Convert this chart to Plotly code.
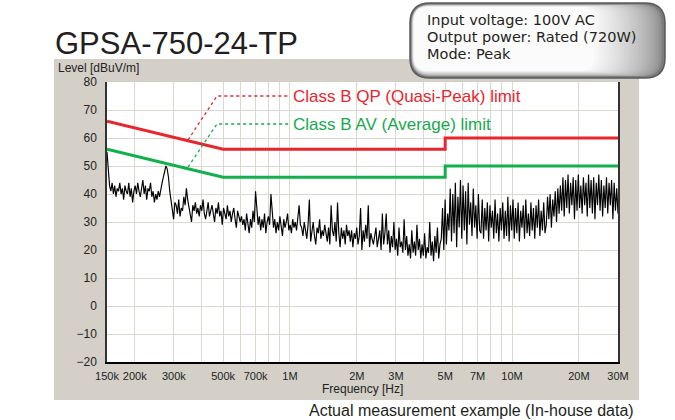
import numpy as np
import plotly.graph_objects as go

# ---------------- data ----------------
tick_freqs = [150e3, 200e3, 300e3, 500e3, 700e3, 1e6, 2e6, 3e6, 5e6, 7e6, 10e6, 20e6, 30e6]
tick_labels = ["150k", "200k", "300k", "500k", "700k", "1M", "2M", "3M", "5M", "7M", "10M", "20M", "30M"]
minor_grid_freqs = [400e3, 600e3, 800e3, 900e3, 4e6, 6e6, 8e6, 9e6]

limit_freqs = [150e3, 500e3, 5e6, 5e6, 30e6]
qp_limit = [66, 56, 56, 60, 60]
av_limit = [56, 46, 46, 50, 50]

meas_level = [
    # 150k - ~240k
    55, 50, 43, 41, 44, 40, 43, 39, 42, 41, 44, 40, 42, 38, 43, 41, 40, 44, 39, 42,
    37, 41, 43, 40, 44, 41, 39, 42, 45, 40, 43, 38, 42, 41, 44, 39, 41, 37, 40, 38,
    41, 39,
    # peak near 270k
    42, 44, 46, 48, 50, 49, 46, 41, 38, 35, 31, 37,
    # 300k - 430k
    36, 33, 38, 32, 35, 34, 39, 36, 42, 38, 35, 33, 30, 36, 34, 37, 33, 35, 32, 36,
    34, 38, 33, 31, 35, 37, 32, 34, 36, 33, 30, 35, 33, 37, 32, 34, 29, 35, 33, 31,
    36, 32, 34, 30, 33, 35, 31, 28, 34, 32, 30,
    # 430k - 1M
    32, 29, 31, 27, 33, 30, 26, 31, 28, 34, 30, 41, 35, 29, 32, 27, 31, 28, 33, 26,
    30, 32, 29, 40, 34, 28, 31, 26, 30, 27, 32, 29, 25, 31, 28, 30, 33, 27, 29, 26,
    31, 28, 30, 27, 32, 36, 29,
    # 1M - 2.5M
    28, 25, 30, 27, 24, 29, 38, 23, 27, 30, 25, 22, 28, 26, 31, 24, 27, 25, 29, 26,
    23, 28, 22, 36, 27, 25, 30, 23, 37, 26, 21, 28, 24, 27, 22, 29, 25, 27, 23, 27,
    21, 26, 24, 28, 22, 25, 35, 20, 27, 23, 29, 24, 36, 21, 26, 24, 22, 25, 28, 21,
    24, 27, 20, 33, 22, 26,
    # 2.5M - 5M
    33, 22, 27, 19, 25, 21, 30, 20, 24, 18, 28, 21, 23, 19, 31, 20, 25, 18, 22, 17,
    27, 19, 23, 18, 29, 20, 24, 17, 22, 18, 26, 17, 21, 19, 30, 18, 23, 16, 25, 19,
    28, 17, 22,
    # 5M - 7.5M
    24, 35, 20, 38, 22, 33, 27, 42, 23, 40, 26, 44, 21, 39, 28, 45, 24, 43, 27, 41,
    22, 44, 29, 37, 25, 42, 28, 36, 24, 40, 27,
    # 7.5M - 10M
    26, 38, 24, 35, 27, 37, 23, 36, 28, 34, 24, 38, 26, 33, 23, 35, 27, 37, 24, 34,
    # 10M - 14M
    25, 39, 23, 36, 27, 38, 24, 35, 26, 37, 23, 34, 28, 36, 24, 38, 26, 33, 25, 37,
    27, 35, 24, 36, 28, 38, 25, 34, 27, 37, 26,
    # 14M - 17M
    29, 39, 31, 40, 28, 38, 32, 41, 30, 42, 33, 43,
    # 17M - 30M
    34, 46, 32, 45, 35, 47, 33, 44, 36, 46, 31, 45, 34, 47, 35, 43, 33, 46, 36, 44,
    32, 47, 35, 45, 33, 46, 31, 44, 36, 47, 34, 45, 32, 43, 35, 46, 33, 44, 36, 45,
    31, 44, 34, 42, 33,
]
# receiver sweep grid (log-spaced scan points, start/stop of the measurement)
sweep_start, sweep_stop = 150e3, 30e6
meas_freq = np.geomspace(sweep_start, sweep_stop, len(meas_level))

title_text = "GPSA-750-24-TP"
info_lines = ["Input voltage: 100V AC", "Output power: Rated (720W)", "Mode: Peak"]
qp_label = "Class B QP (Quasi-Peak) limit"
av_label = "Class B AV (Average) limit"
caption = "Actual measurement example (In-house data)"

# ---------------- layout geometry (pixels) ----------------
W, H = 675, 420
PL, PR, PT, PB = 107, 618, 82, 362


def px(x):
    return (x - PL) / (PR - PL)


def py(y):
    return (PB - y) / (PB - PT)


def rrect(x0, y0, x1, y1, r):
    X0, X1, Y0, Y1 = px(x0), px(x1), py(y0), py(y1)
    rx = r / (PR - PL)
    ry = r / (PB - PT)
    return (f"M {X0+rx},{Y0} L {X1-rx},{Y0} Q {X1},{Y0} {X1},{Y0-ry} "
            f"L {X1},{Y1+ry} Q {X1},{Y1} {X1-rx},{Y1} L {X0+rx},{Y1} "
            f"Q {X0},{Y1} {X0},{Y1+ry} L {X0},{Y0-ry} Q {X0},{Y0} {X0+rx},{Y0} Z")


FONT = "Liberation Sans"
RED = "#e8262d"
GREEN = "#10b04a"

fig = go.Figure()

fig.add_trace(go.Scatter(x=meas_freq, y=meas_level, mode="lines",
                         line=dict(color="black", width=1.15), hoverinfo="skip"))
fig.add_trace(go.Scatter(x=limit_freqs, y=qp_limit, mode="lines",
                         line=dict(color=RED, width=3), hoverinfo="skip"))
fig.add_trace(go.Scatter(x=limit_freqs, y=av_limit, mode="lines",
                         line=dict(color=GREEN, width=3), hoverinfo="skip"))

shapes = []
# gray panel and white plot area
shapes.append(dict(type="rect", xref="paper", yref="paper", layer="below",
                   x0=px(54), x1=px(639), y0=py(400), y1=py(59),
                   fillcolor="#d4d0c8", line=dict(width=0)))
shapes.append(dict(type="rect", xref="paper", yref="paper", layer="below",
                   x0=0, x1=1, y0=0, y1=1, fillcolor="white", line=dict(width=0)))
# info box: outer rim then a stack of lighter rounded layers to imitate the gradient
shapes.append(dict(type="path", xref="paper", yref="paper", layer="above",
                   path=rrect(410, 3, 665, 78, 20), fillcolor="#7c7c7c",
                   line=dict(color="#5a5a5a", width=1.5)))
n_layers = 28
for k in range(n_layers):
    t = (k + 1) / n_layers
    g = int(128 + (251 - 128) * t ** 0.6)
    shapes.append(dict(type="path", xref="paper", yref="paper", layer="above",
                       path=rrect(411.5 + 2.5 * t, 4.5 + 2.5 * t, 664 - 70 * t, 76.5 - 6 * t,
                                  19 - 5 * t),
                       fillcolor=f"rgb({g},{g},{g})", line=dict(width=0)))
# dotted leader lines
for (col, y_start, y_end) in [(RED, 140, 96), (GREEN, 167, 124)]:
    shapes.append(dict(type="path", xref="paper", yref="paper", layer="above",
                       path=f"M {px(188)},{py(y_start)} L {px(217)},{py(y_end)} L {px(290)},{py(y_end)}",
                       line=dict(color=col, width=1.3, dash="dot")))

annotations = [
    dict(text=title_text, x=px(53), y=py(43), xanchor="left", yanchor="middle",
         font=dict(family=FONT, size=31, color="#231f20")),
    dict(text="Level [dBuV/m]", x=px(56), y=py(68), xanchor="left", yanchor="middle",
         font=dict(family=FONT, size=12, color="#222")),
    dict(text="Frequency [Hz]", x=px(362), y=py(389), xanchor="center", yanchor="middle",
         font=dict(family=FONT, size=12, color="#222")),
    dict(text=qp_label, x=px(291), y=py(96), xanchor="left", yanchor="middle",
         font=dict(family=FONT, size=17, color=RED)),
    dict(text=av_label, x=px(291), y=py(124), xanchor="left", yanchor="middle",
         font=dict(family=FONT, size=17, color="#17a94e")),
    dict(text=caption, x=px(636), y=py(410), xanchor="right", yanchor="middle",
         font=dict(family=FONT, size=16, color="#231f20")),
]
for i, line in enumerate(info_lines):
    annotations.append(dict(text=line, x=px(425), y=py(20.5 + i * 17), xanchor="left",
                            yanchor="middle",
                            font=dict(family="DejaVu Sans", size=14.5, color="#231f20")))
for a in annotations:
    a.update(xref="paper", yref="paper", showarrow=False)

fig.update_layout(
    width=W, height=H,
    margin=dict(l=PL, r=W - PR, t=PT, b=H - PB, pad=0),
    paper_bgcolor="white", plot_bgcolor="white",
    showlegend=False,
    shapes=shapes, annotations=annotations,
    font=dict(family=FONT, size=11, color="#222"),
)
fig.update_xaxes(type="log", range=[np.log10(150e3), np.log10(30e6)],
                 tickmode="array", tickvals=tick_freqs, ticktext=tick_labels,
                 showgrid=True, gridcolor="#dcd8d0", gridwidth=1,
                 showline=True, linecolor="black", linewidth=1.5, mirror=False,
                 ticks="", ticklabelstandoff=3, zeroline=False,
                 tickfont=dict(family=FONT, size=11, color="#222"),
                 minor=dict(tickmode="array", tickvals=minor_grid_freqs,
                            showgrid=True, gridcolor="#dcd8d0", gridwidth=1, ticks=""))
fig.update_yaxes(range=[-20, 80], tickmode="array", tickvals=list(range(-20, 81, 10)),
                 showgrid=True, gridcolor="#dcd8d0", gridwidth=1,
                 showline=True, linecolor="#333", linewidth=1.5, mirror=True,
                 ticks="", ticklabelstandoff=6, zeroline=False,
                 tickfont=dict(family=FONT, size=12, color="#222"))

fig.write_html("out.html", config=dict(displayModeBar=False))

# remove the browser's default page margin so the figure sits at the window's corner
with open("out.html", "r", encoding="utf-8") as fh:
    html = fh.read()
html = html.replace("<head>", "<head><style>html,body{margin:0;padding:0;overflow:hidden;}</style>", 1)
with open("out.html", "w", encoding="utf-8") as fh:
    fh.write(html)
